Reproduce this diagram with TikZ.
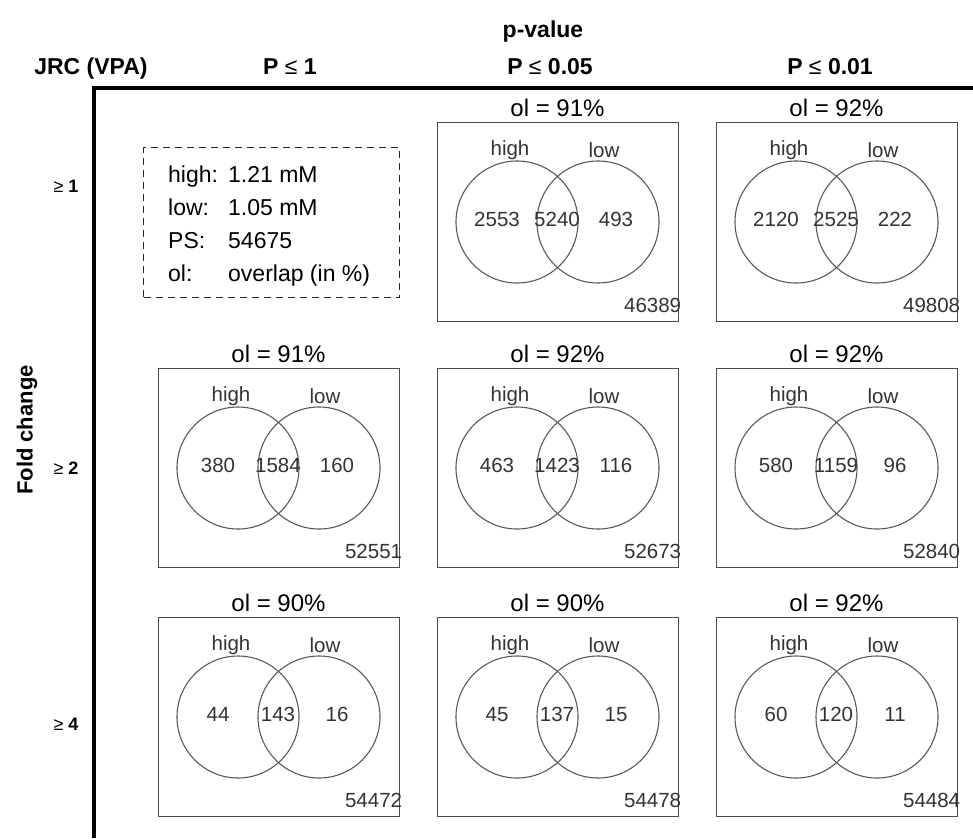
\documentclass[tikz,border=0pt]{standalone}
\usepackage{fontspec}
\setmainfont{Liberation Sans}
\begin{document}
\begin{tikzpicture}[x=1pt,y=-1pt]
\tikzset{
 vbox/.style={draw=black!70, line width=1.3pt, minimum width=241, minimum height=199, anchor=north west, inner sep=0},
 vcirc/.style={circle, draw=black!65, line width=1.1pt, minimum size=122, inner sep=0},
 vtxt/.style={font=\fontsize{20.5}{22}\selectfont, text=black!80, anchor=base, inner sep=0},
 ttl/.style={font=\fontsize{24}{28}\selectfont, anchor=base, inner sep=0},
 hdr/.style={font=\bfseries\fontsize{23}{26}\selectfont, anchor=base, inner sep=0},
 rowlbl/.style={font=\fontsize{18}{20}\selectfont, anchor=base, inner sep=0},
 lgd/.style={font=\fontsize{23}{26}\selectfont, anchor=base west, inner sep=0},
 axisline/.style={line width=4.5pt, line join=miter},
}
\newcommand\vennpanel[8]{%
 \node[vbox] (#1) at (#2,#3) {};
 \node[ttl] (#1t) at ([shift={(120.5,-6)}]#1.north west) {ol = #4\%};
 \node[vcirc] (#1L) at ([shift={(80,100)}]#1.north west) {};
 \node[vcirc] (#1R) at ([shift={(161,100)}]#1.north west) {};
 \node[vtxt] (#1h) at ([shift={(73,33)}]#1.north west) {high};
 \node[vtxt] (#1w) at ([shift={(167,35)}]#1.north west) {low};
 \node[vtxt] (#1a) at ([shift={(60,104)}]#1.north west) {#5};
 \node[vtxt] (#1b) at ([shift={(120,104)}]#1.north west) {#6};
 \node[vtxt] (#1c) at ([shift={(179,104)}]#1.north west) {#7};
 \node[vtxt, anchor=base east] (#1n) at ([shift={(2,190)}]#1.north east) {#8};
}
\useasboundingbox (0,0) rectangle (973,838);
% headers
\node[hdr] (pval) at (543,37) {p-value};
\node[hdr] (jrc) at (91,74) {JRC (VPA)};
\node[hdr] (h1) at (290,74) {P {\mdseries≤} 1};
\node[hdr] (h2) at (550,74) {P {\mdseries≤} 0.05};
\node[hdr] (h3) at (830,74) {P {\mdseries≤} 0.01};
% axis
\coordinate (axR) at (973,88);
\coordinate (ax0) at (94,88);
\coordinate (axB) at (94,838);
\draw[axisline] (axR) -- (ax0) -- (axB);
% row labels
\node[rowlbl] (r1) at (66,192) {≥ \textbf{1}};
\node[rowlbl] (r2) at (66,474) {≥ \textbf{2}};
\node[rowlbl] (r3) at (66,730) {≥ \textbf{4}};
\node[font=\bfseries\fontsize{22}{24}\selectfont, rotate=90, inner sep=0] (fc) at (27,430) {Fold change};
% legend
\node[draw=black!85, line width=1.4pt, dash pattern=on 7pt off 5pt, minimum width=256, minimum height=150, anchor=north west, inner sep=0] (legend) at (143,147) {};
\node[lgd] (lg1a) at (168,182) {high:};
\node[lgd] (lg1b) at (228,182) {1.21 mM};
\node[lgd] (lg2a) at (168,215) {low:};
\node[lgd] (lg2b) at (228,215) {1.05 mM};
\node[lgd] (lg3a) at (168,248) {PS:};
\node[lgd] (lg3b) at (228,248) {54675};
\node[lgd] (lg4a) at (168,281) {ol:};
\node[lgd] (lg4b) at (228,281) {overlap (in \%)};
% panels
\vennpanel{rAcB}{437}{122}{91}{2553}{5240}{493}{46389}
\vennpanel{rAcC}{716}{122}{92}{2120}{2525}{222}{49808}
\vennpanel{rBcA}{158}{368}{91}{380}{1584}{160}{52551}
\vennpanel{rBcB}{437}{368}{92}{463}{1423}{116}{52673}
\vennpanel{rBcC}{716}{368}{92}{580}{1159}{96}{52840}
\vennpanel{rCcA}{158}{617}{90}{44}{143}{16}{54472}
\vennpanel{rCcB}{437}{617}{90}{45}{137}{15}{54478}
\vennpanel{rCcC}{716}{617}{92}{60}{120}{11}{54484}
\end{tikzpicture}
\end{document}
